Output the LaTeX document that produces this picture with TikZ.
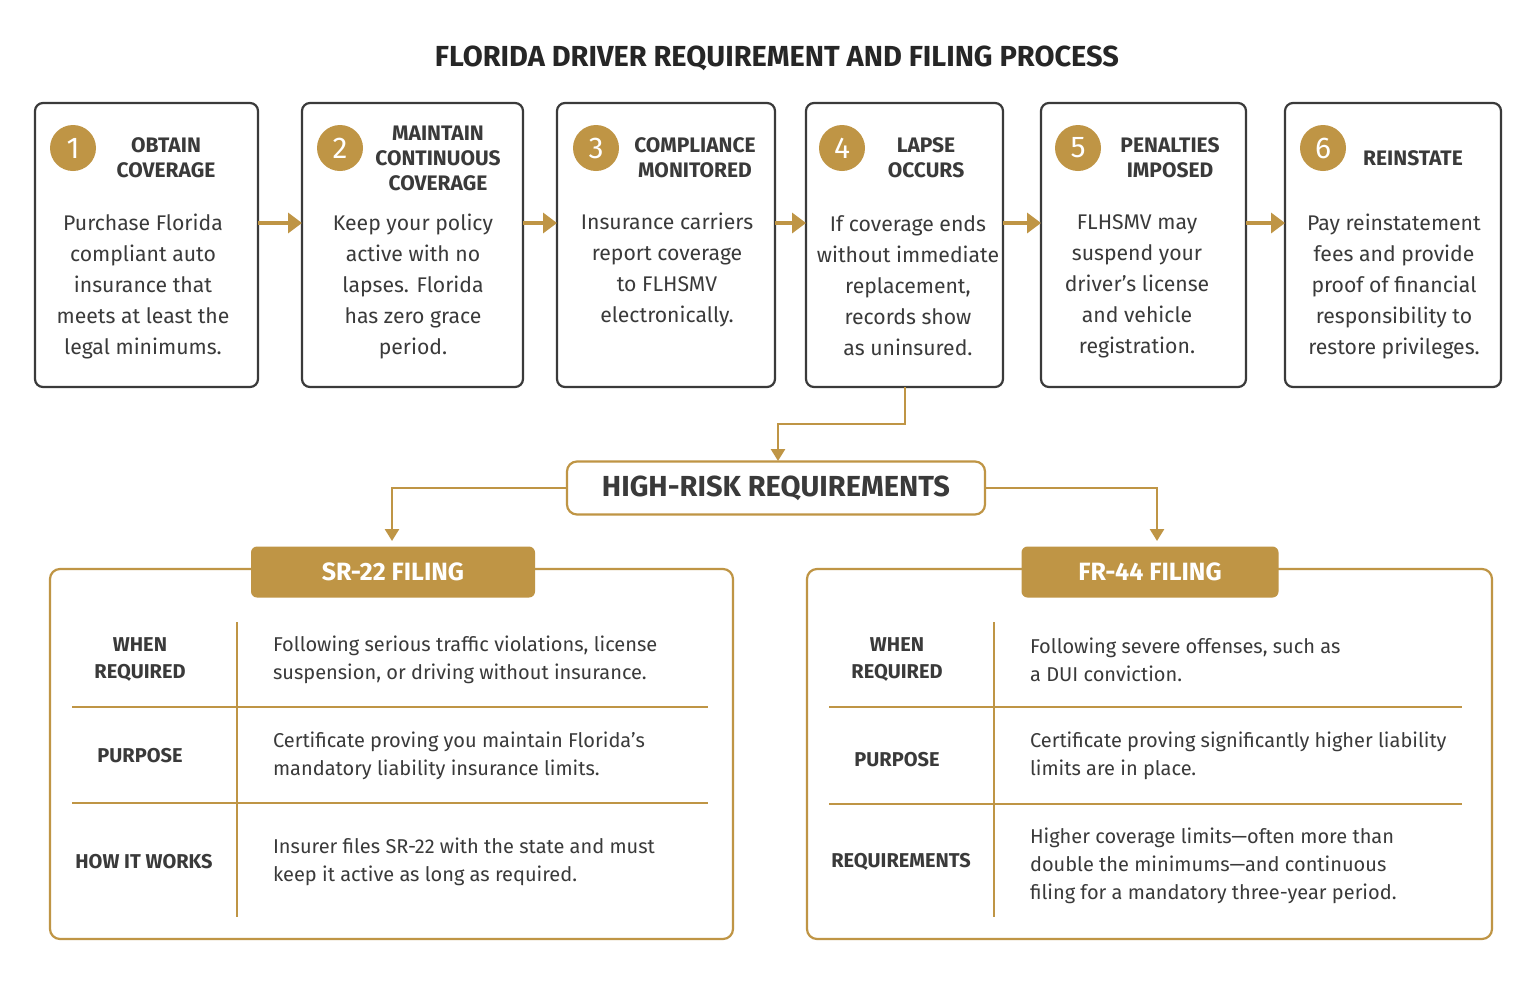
\documentclass[tikz,border=0pt]{standalone}
\usepackage{fontspec}
\setmainfont{Fira Sans}
\usetikzlibrary{arrows.meta}
\definecolor{gold}{HTML}{BF9545}
\definecolor{dk}{HTML}{3A3A3A}
\begin{document}
\begin{tikzpicture}[x=0.5pt,y=-0.5pt,
 stepbox/.style={draw=dk,line width=1.1pt,rounded corners=4pt},
 num/.style={circle,fill=gold,text=white,minimum size=23pt,inner sep=0,font=\fontsize{15}{15}\selectfont},
 head/.style={font=\fontsize{10.5}{12.5}\selectfont\bfseries,text=dk,align=center},
 body/.style={font=\fontsize{10.6}{15.5}\selectfont,text=dk,align=center},
 arr/.style={-{Triangle[length=7pt,width=10pt]},gold,line width=2.4pt},
 garr/.style={-{Triangle[length=6pt,width=7pt]},gold,line width=1.3pt},
 panel/.style={draw=gold,line width=1.1pt,rounded corners=5pt},
 tab/.style={fill=gold,rounded corners=3pt},
 lab/.style={font=\fontsize{10}{13.5}\selectfont\bfseries,text=dk,align=center},
 desc/.style={font=\fontsize{10}{14}\selectfont,text=dk,align=left,anchor=west},
 rule/.style={gold,line width=0.8pt}]
\useasboundingbox (0,0) rectangle (1536,986);
\fill[white] (0,0) rectangle (1536,986);
\node[font=\fontsize{14.5}{14.5}\selectfont\bfseries,text=black!85] (title) at (777,58) {FLORIDA DRIVER REQUIREMENT AND FILING PROCESS};
% steps
\draw[stepbox] (35,103) rectangle (258,387);
\draw[stepbox] (302,103) rectangle (523,387);
\draw[stepbox] (557,103) rectangle (775,387);
\draw[stepbox] (806,103) rectangle (1003,387);
\draw[stepbox] (1041,103) rectangle (1246,387);
\draw[stepbox] (1285,103) rectangle (1501,387);
\node[num] (n1) at (73,148) {1}; \node[head] (h1) at (166,158) {OBTAIN\\COVERAGE};
\node[num] (n2) at (340,148) {2}; \node[head] (h2) at (438,158) {MAINTAIN\\CONTINUOUS\\COVERAGE};
\node[num] (n3) at (596,148) {3}; \node[head] (h3) at (695,158) {COMPLIANCE\\MONITORED};
\node[num] (n4) at (842,148) {4}; \node[head] (h4) at (926,158) {LAPSE\\OCCURS};
\node[num] (n5) at (1078,148) {5}; \node[head] (h5) at (1170,158) {PENALTIES\\IMPOSED};
\node[num] (n6) at (1323,148) {6}; \node[head] (h6) at (1413,158) {REINSTATE};
\node[body] (t1) at (143,286) {Purchase Florida\\compliant auto\\insurance that\\meets at least the\\legal minimums.};
\node[body] (t2) at (413,286) {Keep your policy\\active with no\\lapses. Florida\\has zero grace\\period.};
\node[body] (t3) at (667,270) {Insurance carriers\\report coverage\\to FLHSMV\\electronically.};
\node[body] (t4) at (908,286) {If coverage ends\\without immediate\\replacement,\\records show\\as uninsured.};
\node[body] (t5) at (1137,286) {FLHSMV may\\suspend your\\driver’s license\\and vehicle\\registration.};
\node[body] (t6) at (1394,286) {Pay reinstatement\\fees and provide\\proof of financial\\responsibility to\\restore privileges.};
\coordinate (a1) at (258,223); \coordinate (a1e) at (302,223);
\coordinate (a2) at (523,223); \coordinate (a2e) at (557,223);
\coordinate (a3) at (775,223); \coordinate (a3e) at (806,223);
\coordinate (a4) at (1003,223); \coordinate (a4e) at (1041,223);
\coordinate (a5) at (1246,223); \coordinate (a5e) at (1285,223);
\draw[arr] (a1) -- (a1e); \draw[arr] (a2) -- (a2e); \draw[arr] (a3) -- (a3e);
\draw[arr] (a4) -- (a4e); \draw[arr] (a5) -- (a5e);
% high risk
\node[draw=gold,line width=1.1pt,rounded corners=5pt,minimum width=209pt,minimum height=26.5pt,font=\fontsize{14.5}{14.5}\selectfont\bfseries,text=dk] (hr) at (776,488) {HIGH-RISK REQUIREMENTS};
\coordinate (b4) at (905,387);
\coordinate (hrt) at (778,461);
\draw[garr] (b4) -- (905,424) -| (hrt);
\draw[garr] (hr.west) -| (392,541);
\draw[garr] (hr.east) -| (1157,541);
% SR-22
\draw[panel] (50,569) rectangle (733,939);
\node[tab,minimum width=142pt,minimum height=25.5pt,text=white,font=\fontsize{12.5}{12.5}\selectfont\bfseries] (sr) at (393,572) {SR-22 FILING};
\draw[rule] (237,622) -- (237,917);
\draw[rule] (72,707) -- (708,707); \draw[rule] (72,803) -- (708,803);
\node[lab] at (140,660) {WHEN\\REQUIRED};
\node[lab] at (140,756) {PURPOSE};
\node[lab] at (144,862) {HOW IT WORKS};
\node[desc] at (266,660) {Following serious traffic violations, license\\suspension, or driving without insurance.};
\node[desc] at (266,756) {Certificate proving you maintain Florida’s\\mandatory liability insurance limits.};
\node[desc] at (266,862) {Insurer files SR-22 with the state and must\\keep it active as long as required.};
% FR-44
\draw[panel] (807,569) rectangle (1492,939);
\node[tab,minimum width=128.5pt,minimum height=25.5pt,text=white,font=\fontsize{12.5}{12.5}\selectfont\bfseries] (fr) at (1150,572) {FR-44 FILING};
\draw[rule] (994,622) -- (994,917);
\draw[rule] (829,707) -- (1462,707); \draw[rule] (829,804) -- (1462,804);
\node[lab] at (897,660) {WHEN\\REQUIRED};
\node[lab] at (897,760) {PURPOSE};
\node[lab] at (901,862) {REQUIREMENTS};
\node[desc] at (1023,660) {Following severe offenses, such as\\a DUI conviction.};
\node[desc] at (1023,756) {Certificate proving significantly higher liability\\limits are in place.};
\node[desc] at (1023,866) {Higher coverage limits—often more than\\double the minimums—and continuous\\filing for a mandatory three-year period.};
\end{tikzpicture}
\end{document}
